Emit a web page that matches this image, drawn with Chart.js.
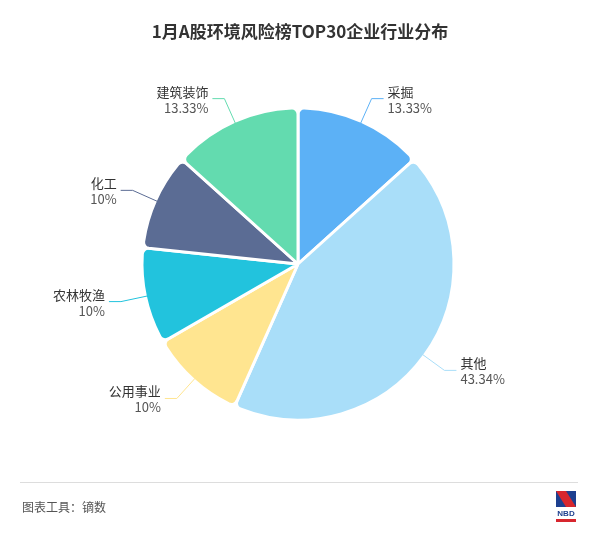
<!DOCTYPE html>
<html><head><meta charset="utf-8">
<script src="https://cdn.jsdelivr.net/npm/chart.js@4/dist/chart.umd.min.js"></script>
<style>html,body{margin:0;padding:0;background:#fff}#w{width:600px;height:538px;position:relative}</style>
</head><body><div id="w"><canvas id="c"></canvas></div>
<script>
const categories = ['采掘','其他','公用事业','农林牧渔','化工','建筑装饰'];
const values = [13.33,43.34,10,10,10,13.33];
const labels = ['13.33%','43.34%','10%','10%','10%','13.33%'];
const colors = ['#5CB1F6','#A9DEF9','#FFE590','#22C3DD','#5B6C94','#63DBAF'];
const FONT = '"Noto Sans CJK SC","Noto Sans",sans-serif';
const deco = {
  id:'deco',
  afterDraw(ch){
    const ctx=ch.ctx; ctx.save();
    ctx.fillStyle='#333'; ctx.font='bold 17px '+FONT; ctx.textAlign='center'; ctx.textBaseline='middle';
    ctx.fillText('1月A股环境风险榜TOP30企业行业分布',300,32);
    ctx.strokeStyle='#ddd'; ctx.lineWidth=1; ctx.beginPath(); ctx.moveTo(20,482.5); ctx.lineTo(578,482.5); ctx.stroke();
    ctx.fillStyle='#555'; ctx.font='12px '+FONT; ctx.textAlign='left'; ctx.fillText('图表工具：镝数',22,507);
    // logo
    ctx.fillStyle='#1d3f8f'; ctx.fillRect(556,491,20,16);
    ctx.fillStyle='#d7262e'; ctx.beginPath(); ctx.moveTo(556,491); ctx.lineTo(566,491); ctx.lineTo(576,507); ctx.lineTo(566,507); ctx.closePath(); ctx.fill();
    ctx.fillStyle='#1d3f8f'; ctx.font='bold 8px sans-serif'; ctx.textAlign='center'; ctx.fillText('NBD',566,514);
    ctx.fillStyle='#d7262e'; ctx.fillRect(556,519,20,3);
    // labels
    const meta=ch.getDatasetMeta(0);
    meta.data.forEach((a,i)=>{
      const mid=(a.startAngle+a.endAngle)/2, r=a.outerRadius;
      const cx=a.x, cy=a.y;
      const x1=cx+Math.cos(mid)*(r-2), y1=cy+Math.sin(mid)*(r-2);
      const x2=cx+Math.cos(mid)*(r+25), y2=cy+Math.sin(mid)*(r+25);
      const right=Math.cos(mid)>=0;
      const x3=x2+(right?12:-12);
      ctx.strokeStyle=colors[i]; ctx.lineWidth=1;
      ctx.beginPath(); ctx.moveTo(x1,y1); ctx.lineTo(x2,y2); ctx.lineTo(x3,y2); ctx.stroke();
      ctx.fillStyle='#333'; ctx.font='13px '+FONT; ctx.textAlign=right?'left':'right';
      const tx=x3+(right?4:-4);
      ctx.fillText(categories[i],tx,y2-7);
      ctx.fillStyle='#555';
      ctx.fillText(labels[i],tx,y2+9);
    });
    ctx.restore();
  }
};
new Chart(document.getElementById('c'),{
  type:'pie',
  data:{labels:categories,datasets:[{data:values,backgroundColor:colors,borderColor:'#fff',borderWidth:3,borderRadius:6,radius:156}]},
  options:{responsive:true,maintainAspectRatio:false,animation:false,
    layout:{padding:{top:109,bottom:119,left:0,right:4}},
    plugins:{legend:{display:false},tooltip:{enabled:false}}},
  plugins:[deco]
});
</script></body></html>
